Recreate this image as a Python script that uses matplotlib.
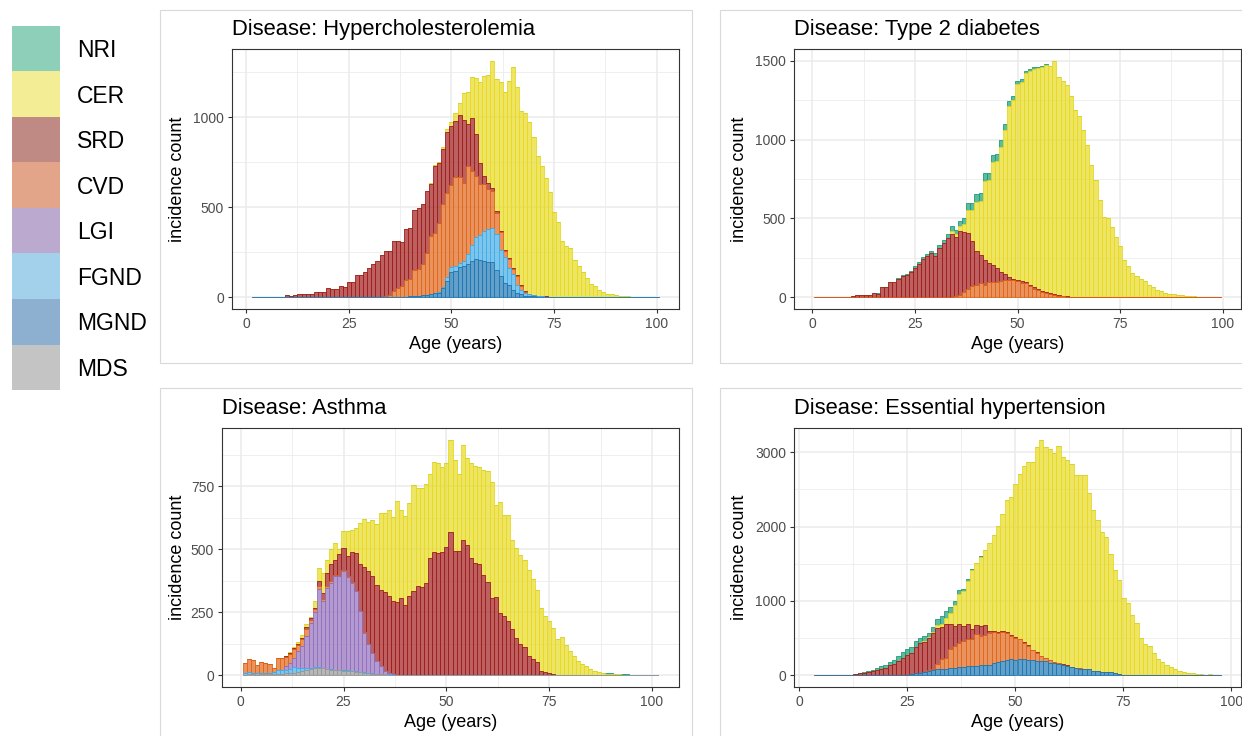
import numpy as np
import matplotlib
matplotlib.use("Agg")
import matplotlib.pyplot as plt
from matplotlib.patches import Rectangle
from matplotlib.ticker import MultipleLocator

plt.rcParams["font.family"] = ["Liberation Sans", "DejaVu Sans"]

# =========================
# CATEGORIES AND COLOURS
# =========================
CATEGORIES = ["NRI", "CER", "SRD", "CVD", "LGI", "FGND", "MGND", "MDS"]
EDGE_COLOURS = {
    "NRI": "#1B9E77", "CER": "#E8DA22", "SRD": "#A11D1D", "CVD": "#E0661A",
    "LGI": "#9370BC", "FGND": "#45ADE6", "MGND": "#1F78B4", "MDS": "#999999",
}
KEY_COLOURS = {
    "NRI": "#8ECFBA", "CER": "#F3EE96", "SRD": "#BE8A83", "CVD": "#E3A58A",
    "LGI": "#BBA9CF", "FGND": "#A3D0EA", "MGND": "#8DAFD0", "MDS": "#C3C4C3",
}
FILL_ALPHA = 0.7

# =========================
# DATA: incidence counts per one-year age bin
# each series is (first age, counts from that age on)
# =========================

# Hypercholesterolemia
hc_ages = list(range(2, 101))
hc_nri = (4, [2, 3, 2])
hc_cer = (44, [3, 5, 5, 8, 10, 15, 21, 45, 64, 147, 178, 229, 309, 453, 557, 600,
               707, 731, 828, 879, 986, 1119, 1044, 970, 993, 955, 877, 774, 722, 658,
               580, 471, 417, 312, 285, 275, 205, 174, 141, 105, 75, 61, 42, 30, 20,
               15, 10, 7, 5, 4, 3, 2, 3, 2, 2, 1, 2])
hc_srd = (4, [1, 0, 1, 1, 2, 3, 13, 8, 12, 15, 15, 15, 16, 28, 31, 31,
              50, 46, 46, 60, 59, 86, 86, 125, 125, 138, 162, 182, 199, 235, 253, 246,
              280, 263, 245, 281, 286, 334, 338, 331, 339, 289, 369, 329, 305, 338, 329, 308,
              346, 350, 236, 295, 233, 117, 44, 35, 16, 8, 6, 4, 4, 4, 4, 2,
              2, 2, 2, 2, 1, 1, 1, 1, 1, 1])
hc_cvd = (34, [3, 10, 31, 47, 61, 93, 96, 145, 147, 174, 234, 322, 334, 384, 465, 470,
               455, 493, 476, 435, 487, 410, 337, 281, 261, 220, 207, 120, 102, 33, 52, 26,
               50, 24, 5, 3])
hc_fgnd = (46, [3, 5, 5, 18, 27, 28, 24, 25, 56, 90, 123, 137, 165, 183, 187, 200,
                140, 145, 95, 90, 45, 25, 16, 9, 6, 3, 2, 1, 1])
hc_mgnd = (34, [2, 2, 2, 3, 3, 3, 4, 5, 8, 10, 14, 18, 22, 25, 50, 92,
                138, 147, 166, 175, 184, 200, 212, 208, 200, 195, 195, 150, 120, 80, 65, 40,
                25, 15, 9, 6, 4, 3, 2, 2, 1, 1])

# Type 2 diabetes
t2d_ages = list(range(1, 100))
t2d_nri = (15, [1, 1, 1, 2, 2, 3, 4, 5, 7, 8, 10, 12, 13, 16, 15, 17,
                19, 22, 26, 30, 30, 35, 38, 40, 45, 45, 48, 50, 48, 46, 44, 40,
                36, 32, 28, 24, 20, 16, 13, 10, 8, 6, 5, 4, 3, 2, 2, 1])
t2d_cer = (34, [20, 13, 33, 55, 145, 201, 317, 342, 497, 525, 654, 681, 797, 914, 1081, 1133,
                1240, 1263, 1326, 1354, 1383, 1402, 1421, 1443, 1441, 1479, 1386, 1364, 1343,
                1275, 1182, 1147, 1058, 964, 837, 743, 617, 511, 501, 448, 385, 322, 238, 196,
                154, 137, 116, 101, 80, 65, 48, 38, 27, 23, 18, 15, 12, 8, 6, 5, 4, 3, 3, 2,
                2, 2])
t2d_srd = (1, [1, 1, 1, 1, 2, 2, 1, 2, 3, 10, 13, 13, 15, 17, 27, 23,
               65, 65, 95, 95, 116, 133, 143, 158, 185, 213, 242, 259, 280, 263, 311, 343,
               374, 400, 379, 400, 380, 357, 285, 210, 180, 162, 122, 108, 88, 55, 43, 18,
               11, 10, 9, 7, 10, 10, 7, 6, 4, 3, 3, 2, 2, 1, 1, 1])
t2d_cvd = (35, [6, 17, 32, 53, 69, 80, 90, 76, 95, 97, 97, 103, 107, 112, 107, 100,
                92, 88, 70, 55, 45, 36, 28, 22, 15, 10, 6, 4, 3, 2])

# Asthma
ast_ages = list(range(1, 102))
ast_nri = (89, [3, 5, 2, 0, 4, 1])
ast_cer = (12, [2, 4, 6, 12, 15, 6, 26, 52, 80, 52, 59, 66, 21, 66, 99, 90,
                99, 165, 190, 194, 221, 242, 304, 313, 342, 336, 401, 348, 353, 366, 421, 391,
                391, 391, 335, 358, 356, 339, 334, 365, 359, 309, 378, 345, 375, 383, 384, 417,
                441, 460, 366, 443, 402, 421, 353, 355, 353, 345, 342, 319, 287, 250, 220, 207,
                184, 140, 149, 120, 96, 77, 57, 44, 37, 26, 17, 11, 9, 5, 5, 4,
                4, 2, 2, 2, 2, 1, 1, 1, 1, 1])
ast_srd = (11, [2, 4, 5, 6, 6, 6, 6, 6, 21, 25, 54, 68, 62, 81, 90, 80,
                119, 151, 184, 260, 290, 305, 302, 303, 311, 305, 290, 289, 307, 280, 316, 333,
                353, 350, 366, 465, 488, 484, 487, 508, 569, 494, 491, 537, 517, 465, 447, 442,
                399, 370, 307, 309, 245, 234, 215, 184, 149, 125, 113, 76, 63, 53, 17, 14,
                8, 4, 2, 1])
ast_cvd = (1, [40, 53, 50, 34, 46, 39, 34, 17, 46, 48, 37, 36, 33, 22, 26, 29,
               12, 12, 10, 8, 6, 5, 4, 3, 3, 3, 2, 2, 2, 2, 1, 1, 1])
ast_lgi = (11, [15, 24, 37, 68, 86, 125, 178, 218, 310, 264, 321, 343, 371, 373, 393, 371,
                350, 318, 240, 156, 112, 81, 49, 32, 14, 5, 1])
ast_fgnd = (1, [8, 10, 7, 5, 5, 5, 5, 8, 15, 13, 15, 18, 23, 16, 15, 10,
                5, 4, 3, 2, 2, 2, 2, 2, 2, 2, 2, 2, 2, 2, 2, 2, 1, 1, 1, 1])
ast_mds = (1, [2, 3, 3, 2, 3, 3, 4, 5, 6, 6, 7, 8, 10, 12, 15, 20,
               25, 28, 30, 28, 24, 22, 20, 20, 18, 17, 15, 13, 12, 10, 8, 6,
               5, 4, 3, 2, 2, 1])

# Essential hypertension
eht_ages = list(range(4, 98))
eht_nri = (12, [2, 3, 5, 8, 10, 14, 20, 28, 37, 45, 55, 70, 75, 80, 90, 70,
                67, 70, 60, 75, 90, 95, 90, 80, 60, 45, 30, 20, 12, 8, 5, 3, 2])
eht_cer = (29, [12, 4, 7, 38, 41, 80, 146, 275, 407, 465, 585, 788, 836, 929, 1013, 1182,
                1297, 1423, 1574, 1776, 1860, 2063, 2213, 2365, 2468, 2523, 2758, 2902, 2838,
                2834, 2810, 2921, 2786, 2769, 2723, 2601, 2595, 2605, 2370, 2161, 2027, 1884,
                1822, 1593, 1387, 1260, 1033, 969, 815, 696, 504, 415, 392, 294, 223, 178,
                134, 116, 89, 58, 45, 27, 27, 18, 13, 9, 13, 9, 9])
eht_srd = (6, [1, 0, 1, 1, 2, 3, 5, 13, 25, 36, 50, 58, 72, 90, 103, 134,
               148, 193, 234, 261, 283, 358, 403, 398, 441, 488, 484, 439, 453, 345, 271, 251,
               204, 204, 134, 121, 134, 132, 27, 10, 8, 8, 10, 11, 9, 6, 6, 6,
               5, 5, 5, 4, 4, 3, 3, 3, 2, 2, 2, 2, 2, 1, 1, 1, 1, 1, 1, 1, 1, 1, 1])
eht_cvd = (28, [1, 5, 7, 18, 67, 130, 147, 250, 291, 323, 345, 359, 368, 421, 395, 399,
                430, 421, 394, 389, 373, 314, 300, 269, 224, 188, 138, 107, 67, 40, 30, 18,
                12, 8, 5, 3, 2, 2, 1, 1])
eht_mgnd = (24, [3, 8, 13, 27, 35, 45, 58, 67, 81, 85, 90, 99, 103, 116, 116, 125,
                 125, 130, 134, 139, 143, 161, 179, 193, 200, 215, 206, 215, 215, 206, 202, 198,
                 193, 193, 170, 161, 148, 134, 125, 110, 94, 90, 81, 81, 58, 58, 45, 40,
                 38, 30, 15, 5, 2])

# =========================
# FIGURE LAYOUT (pixels of a 1242 x 736 canvas)
# =========================
W, H = 1242, 736

PANELS = [
    # title, ages, series, (left, right, top, bottom), y major step, y label x
    ("Hypercholesterolemia", hc_ages,
     {"NRI": hc_nri, "CER": hc_cer, "SRD": hc_srd, "CVD": hc_cvd,
      "FGND": hc_fgnd, "MGND": hc_mgnd},
     (232, 679, 49, 309), 500, 177),
    ("Type 2 diabetes", t2d_ages,
     {"NRI": t2d_nri, "CER": t2d_cer, "SRD": t2d_srd, "CVD": t2d_cvd},
     (794, 1241, 49, 309), 500, 739),
    ("Asthma", ast_ages,
     {"NRI": ast_nri, "CER": ast_cer, "SRD": ast_srd, "CVD": ast_cvd,
      "LGI": ast_lgi, "FGND": ast_fgnd, "MDS": ast_mds},
     (222, 679, 428, 687), 250, 177),
    ("Essential hypertension", eht_ages,
     {"NRI": eht_nri, "CER": eht_cer, "SRD": eht_srd, "CVD": eht_cvd,
      "MGND": eht_mgnd},
     (794, 1241, 428, 687), 1000, 739),
]

# light frames around each sub-figure
FRAMES = [(160, 10, 692, 363), (720, 10, 1262, 363),
          (160, 388, 692, 756), (720, 388, 1262, 756)]


def spread(series, ages):
    first, counts = series
    full = np.zeros(len(ages))
    i = first - ages[0]
    full[i:i + len(counts)] = counts
    return full


def draw_panel(ax, ages, series):
    present = [c for c in CATEGORIES if c in series]
    counts = {c: spread(series[c], ages) for c in present}

    # stack from the last category upward
    bottoms = {}
    running = np.zeros(len(ages))
    for cat in reversed(present):
        bottoms[cat] = running.copy()
        running = running + counts[cat]

    # top layers first so the lower outlines stay visible
    for cat in present:
        ax.bar(ages, counts[cat], width=1.0, bottom=bottoms[cat], align="center",
               color=matplotlib.colors.to_rgba(EDGE_COLOURS[cat], FILL_ALPHA),
               edgecolor=EDGE_COLOURS[cat], linewidth=0.6, zorder=2)

    span = len(ages)
    lo, hi = ages[0] - 0.5, ages[-1] + 0.5
    ax.set_xlim(lo - 0.05 * span, hi + 0.05 * span)
    top = running.max()
    ax.set_ylim(-0.05 * top, 1.05 * top)


fig = plt.figure(figsize=(W / 100, H / 100), dpi=100)

for x0, y0, x1, y1 in FRAMES:
    fig.add_artist(Rectangle((x0 / W, 1 - y1 / H), (x1 - x0) / W, (y1 - y0) / H,
                             transform=fig.transFigure, facecolor="none",
                             edgecolor="#D9D9D9", linewidth=0.8))

for title, ages, series, (l, r, t, b), ystep, ylab_x in PANELS:
    ax = fig.add_axes([l / W, 1 - b / H, (r - l) / W, (b - t) / H])
    draw_panel(ax, ages, series)

    ax.xaxis.set_major_locator(MultipleLocator(25))
    ax.xaxis.set_minor_locator(MultipleLocator(12.5))
    ax.yaxis.set_major_locator(MultipleLocator(ystep))
    ax.yaxis.set_minor_locator(MultipleLocator(ystep / 2))
    ax.grid(which="major", color="#EBEBEB", linewidth=1.1)
    ax.grid(which="minor", color="#EBEBEB", linewidth=0.55)
    ax.set_axisbelow(True)

    for side in ax.spines.values():
        side.set_color("#333333")
        side.set_linewidth(0.8)
    ax.tick_params(which="major", direction="out", length=2.75, width=0.8,
                   color="#333333", labelcolor="#4D4D4D", labelsize=10, pad=3)
    ax.tick_params(which="minor", length=0)

    ax.set_xlabel("Age (years)", fontsize=13, labelpad=3.5)
    fig.text(ylab_x / W, 1 - (t + b) / 2 / H, "incidence count", rotation=90,
             ha="center", va="center", fontsize=13)
    fig.text(l / W, 1 - (t - 14) / H, "Disease: " + title, fontsize=15.8,
             ha="left", va="baseline")

# =========================
# COLOUR KEY
# =========================
key_top, key_step = 26, 45.5
for i, cat in enumerate(CATEGORIES):
    y0 = key_top + i * key_step
    fig.add_artist(Rectangle((12 / W, 1 - (y0 + key_step) / H), 48 / W, key_step / H,
                             transform=fig.transFigure, facecolor=KEY_COLOURS[cat],
                             edgecolor="none"))
    fig.text(77 / W, 1 - (y0 + key_step / 2 + 2) / H, cat, fontsize=16.5,
             ha="left", va="center")

fig.savefig("out.png", dpi=100)
